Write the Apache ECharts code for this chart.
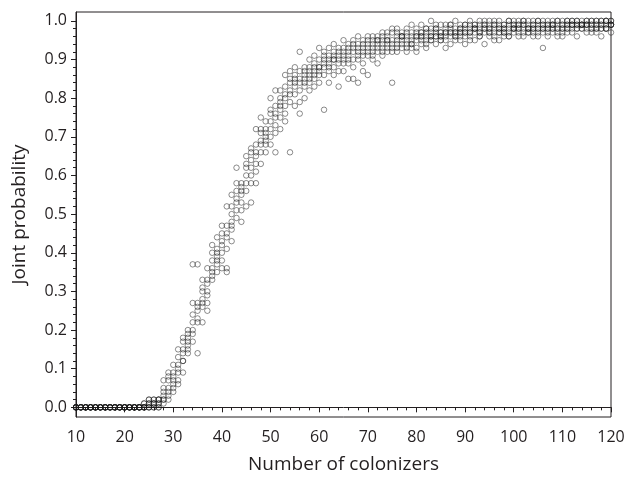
<!DOCTYPE html>
<html>
<head>
<meta charset="utf-8">
<script src="https://cdn.jsdelivr.net/npm/echarts@6/dist/echarts.min.js"></script>
<style>
html,body{margin:0;padding:0;background:#fff;}
#chart{width:627px;height:477px;}
</style>
</head>
<body>
<div id="chart"></div>
<script>
// Number of colonizers: integers 10..120 (one value per replicate at each)
var xStart = 10, xEnd = 120;

// Replicate joint probabilities, index i -> colonizers = 10 + i
var rep1 = [0,0,0,0,0,0,0,0,0,0,0,0,0,0,
  0.00,0.01,0.00,0.01,
  0.02,0.03,0.07,0.09,0.12,0.16,
  0.20,0.23,0.27,0.30,0.35,0.38,0.42,
  0.44,0.48,0.53,0.55,0.58,0.60,0.65,
  0.68,0.70,0.72,0.75,0.77,0.80,0.81,
  0.83,0.84,0.85,0.86,0.87,0.88,0.88,
  0.89,0.90,0.90,0.91,0.91,0.92,0.92,0.92,0.93,
  0.93,0.93,0.94,0.94,0.94,0.95,0.95,0.95,0.95,0.96,
  0.96,0.96,0.96,0.96,0.96,0.97,0.97,0.97,0.97,0.97,
  0.97,0.98,0.97,0.98,0.98,0.98,0.97,0.98,0.98,0.98,
  0.98,0.98,0.98,0.98,0.98,0.98,0.98,0.99,0.98,0.98,
  0.99,0.99,0.99,0.99,0.99,0.99,0.99,0.99,0.99,0.99];
var rep2 = [0,0,0,0,0,0,0,0,0,0,0,0,0,0,
  0.01,0.00,0.02,0.02,
  0.04,0.07,0.09,0.13,0.15,0.19,
  0.24,0.26,0.31,0.33,0.38,0.41,0.45,
  0.47,0.52,0.56,0.57,0.62,0.64,0.68,
  0.71,0.72,0.76,0.78,0.80,0.83,0.84,
  0.85,0.87,0.87,0.88,0.89,0.90,0.90,
  0.91,0.92,0.92,0.93,0.93,0.94,0.94,0.95,0.95,
  0.95,0.96,0.96,0.96,0.97,0.97,0.96,0.97,0.97,0.97,
  0.97,0.98,0.98,0.98,0.97,0.98,0.99,0.98,0.98,0.99,
  0.99,0.99,0.99,0.99,0.99,0.99,0.99,0.99,1.00,0.99,
  0.99,1.00,0.99,0.99,1.00,0.99,0.99,0.99,1.00,0.99,
  1.00,1.00,1.00,0.99,1.00,1.00,1.00,1.00,1.00,1.00];
var rep3 = [0,0,0,0,0,0,0,0,0,0,0,0,0,0,
  0.00,0.02,0.01,0.00,
  0.01,0.02,0.04,0.07,0.09,0.14,
  0.17,0.14,0.22,0.27,0.33,0.35,0.38,
  0.35,0.43,0.49,0.48,0.52,0.53,0.58,
  0.63,0.66,0.68,0.66,0.72,0.74,0.66,
  0.78,0.76,0.80,0.82,0.83,0.84,0.77,
  0.84,0.86,0.83,0.87,0.85,0.88,0.84,0.89,0.86,
  0.90,0.89,0.91,0.92,0.84,0.92,0.93,0.92,0.93,0.93,
  0.94,0.93,0.95,0.94,0.95,0.95,0.94,0.96,0.95,0.94,
  0.96,0.95,0.96,0.94,0.96,0.96,0.95,0.96,0.96,0.97,
  0.97,0.96,0.97,0.97,0.96,0.93,0.97,0.97,0.96,0.97,
  0.98,0.97,0.98,0.98,0.97,0.98,0.97,0.98,0.98,0.97];
var rep4 = [0,0,0,0,0,0,0,0,0,0,0,0,0,0,
  0.00,0.00,0.01,0.02,
  0.03,0.05,0.05,0.11,0.14,0.18,
  0.22,0.25,0.28,0.32,0.36,0.40,0.43,
  0.45,0.50,0.54,0.56,0.60,0.62,0.66,
  0.69,0.71,0.74,0.76,0.78,0.81,0.82,
  0.84,0.85,0.86,0.87,0.88,0.88,0.89,
  0.90,0.90,0.91,0.92,0.92,0.93,0.93,0.93,0.94,
  0.94,0.94,0.95,0.95,0.95,0.96,0.96,0.96,0.96,0.96,
  0.96,0.97,0.97,0.97,0.97,0.97,0.98,0.97,0.98,0.98,
  0.98,0.98,0.98,0.98,0.98,0.99,0.98,0.98,0.99,0.98,
  0.99,0.99,0.98,0.99,0.99,0.99,0.99,0.98,0.99,0.99,
  0.99,0.99,0.99,0.99,0.99,0.99,0.99,0.99,1.00,0.99];
var rep5 = [0,0,0,0,0,0,0,0,0,0,0,0,0,0,
  0.01,0.01,0.00,0.01,
  0.07,0.08,0.11,0.15,0.17,0.20,
  0.27,0.37,0.33,0.36,0.40,0.44,0.47,
  0.52,0.55,0.62,0.58,0.65,0.67,0.72,
  0.75,0.74,0.80,0.82,0.82,0.86,0.87,
  0.88,0.92,0.88,0.90,0.91,0.93,0.92,
  0.93,0.94,0.93,0.95,0.94,0.95,0.96,0.94,0.96,
  0.96,0.95,0.97,0.97,0.98,0.98,0.97,0.98,0.99,0.98,
  0.99,0.98,1.00,0.99,0.99,0.99,0.99,1.00,0.99,0.99,
  1.00,0.99,1.00,1.00,1.00,1.00,1.00,0.99,1.00,1.00,
  1.00,1.00,1.00,1.00,1.00,1.00,1.00,1.00,1.00,1.00,
  1.00,1.00,1.00,1.00,1.00,1.00,1.00,1.00,1.00,1.00];
var rep6 = [0,0,0,0,0,0,0,0,0,0,0,0,0,0,
  0.00,0.02,0.02,0.00,
  0.02,0.04,0.06,0.10,0.12,0.15,
  0.19,0.22,0.26,0.29,0.34,0.37,0.40,
  0.41,0.46,0.51,0.53,0.56,0.58,0.63,
  0.66,0.68,0.70,0.73,0.75,0.78,0.79,
  0.81,0.82,0.83,0.84,0.85,0.86,0.86,
  0.87,0.88,0.89,0.89,0.90,0.90,0.91,0.91,0.92,
  0.92,0.92,0.93,0.93,0.93,0.94,0.94,0.94,0.94,0.95,
  0.95,0.95,0.95,0.96,0.96,0.96,0.96,0.96,0.96,0.97,
  0.97,0.97,0.97,0.97,0.97,0.97,0.97,0.97,0.97,0.98,
  0.98,0.97,0.98,0.98,0.97,0.98,0.98,0.98,0.98,0.98,
  0.98,0.98,0.98,0.99,0.98,0.98,0.98,0.98,0.98,0.99];
var rep7 = [0,0,0,0,0,0,0,0,0,0,0,0,0,0,
  0.00,0.00,0.01,0.02,
  0.05,0.09,0.08,0.06,0.18,0.17,
  0.37,0.27,0.30,0.25,0.42,0.39,0.36,
  0.36,0.47,0.58,0.51,0.63,0.66,0.61,
  0.72,0.69,0.77,0.71,0.79,0.76,0.85,
  0.86,0.79,0.84,0.85,0.86,0.87,0.91,
  0.88,0.91,0.87,0.90,0.89,0.85,0.90,0.87,0.91,
  0.91,0.95,0.92,0.95,0.92,0.93,0.96,0.93,0.94,0.92,
  0.97,0.94,0.96,0.98,0.95,0.93,0.97,0.95,0.97,0.96,
  0.95,0.98,0.96,0.99,0.97,0.95,0.98,0.97,0.96,0.99,
  0.96,0.99,0.97,0.96,0.98,0.97,0.96,0.99,0.97,0.96,
  0.97,0.99,0.96,0.98,0.99,0.97,0.98,0.96,0.98,0.99];
var replicates = [rep1, rep2, rep3, rep4, rep5, rep6, rep7];

var yMajorTicks = [0,0.1,0.2,0.3,0.4,0.5,0.6,0.7,0.8,0.9,1.0];
var yMinorTicks = [0.02,0.04,0.06,0.08,0.12,0.14,0.16,0.18,0.22,0.24,0.26,0.28,
  0.32,0.34,0.36,0.38,0.42,0.44,0.46,0.48,0.52,0.54,0.56,0.58,0.62,0.64,0.66,0.68,
  0.72,0.74,0.76,0.78,0.82,0.84,0.86,0.88,0.92,0.94,0.96,0.98];

var FONT = "'Open Sans', 'Noto Sans', sans-serif";
var TXT = '#231f20';

var series = replicates.map(function (rep, k) {
  return {
    type: 'scatter',
    name: 'rep' + (k + 1),
    xAxisIndex: 0,
    yAxisIndex: 0,
    symbol: 'circle',
    symbolSize: 5.5,
    itemStyle: { color: 'rgba(0,0,0,0)', borderColor: 'rgba(25,25,25,0.62)', borderWidth: 1 },
    emphasis: { disabled: true },
    data: rep.map(function (v, i) { return [xStart + i, v]; })
  };
});

var chart = echarts.init(document.getElementById('chart'), null, { renderer: 'canvas' });
chart.setOption({
  animation: false,
  backgroundColor: '#fff',
  grid: { left: 76, right: 16, top: 12, bottom: 60, containLabel: false, outerBoundsMode: 'none',
    show: true, borderColor: '#231f20', borderWidth: 1, backgroundColor: 'transparent' },
  xAxis: {
    type: 'value', min: xStart, max: xEnd, interval: 10,
    name: 'Number of colonizers', nameLocation: 'middle', nameGap: 38,
    nameTextStyle: { fontFamily: FONT, fontSize: 19, color: TXT },
    axisLine: { show: true, lineStyle: { color: '#231f20', width: 1 } },
    axisTick: { show: true, length: 5, lineStyle: { color: '#231f20' } },
    minorTick: { show: true, splitNumber: 5, length: 3, lineStyle: { color: '#231f20' } },
    axisLabel: { fontFamily: FONT, fontSize: 16, color: TXT, margin: 12 },
    splitLine: { show: false }
  },
  yAxis: [{
    type: 'value', min: -0.025, max: 1.023, position: 'left',
    name: 'Joint probability', nameLocation: 'middle', nameGap: 47,
    nameTextStyle: { fontFamily: FONT, fontSize: 19, color: TXT },
    axisLine: { show: true, onZero: false, lineStyle: { color: '#231f20', width: 1 } },
    axisTick: { show: true, length: 5, customValues: yMajorTicks, lineStyle: { color: '#231f20' } },
    axisLabel: { fontFamily: FONT, fontSize: 16, color: TXT, margin: 9, customValues: yMajorTicks,
      formatter: function (v) { return v.toFixed(1); } },
    splitLine: { show: false }
  }, {
    type: 'value', min: -0.025, max: 1.023, position: 'left', offset: 0,
    axisLine: { show: false },
    axisTick: { show: true, length: 3, customValues: yMinorTicks, lineStyle: { color: '#231f20' } },
    axisLabel: { show: false, customValues: yMinorTicks },
    splitLine: { show: false }
  }],
  series: series
});
</script>
</body>
</html>
